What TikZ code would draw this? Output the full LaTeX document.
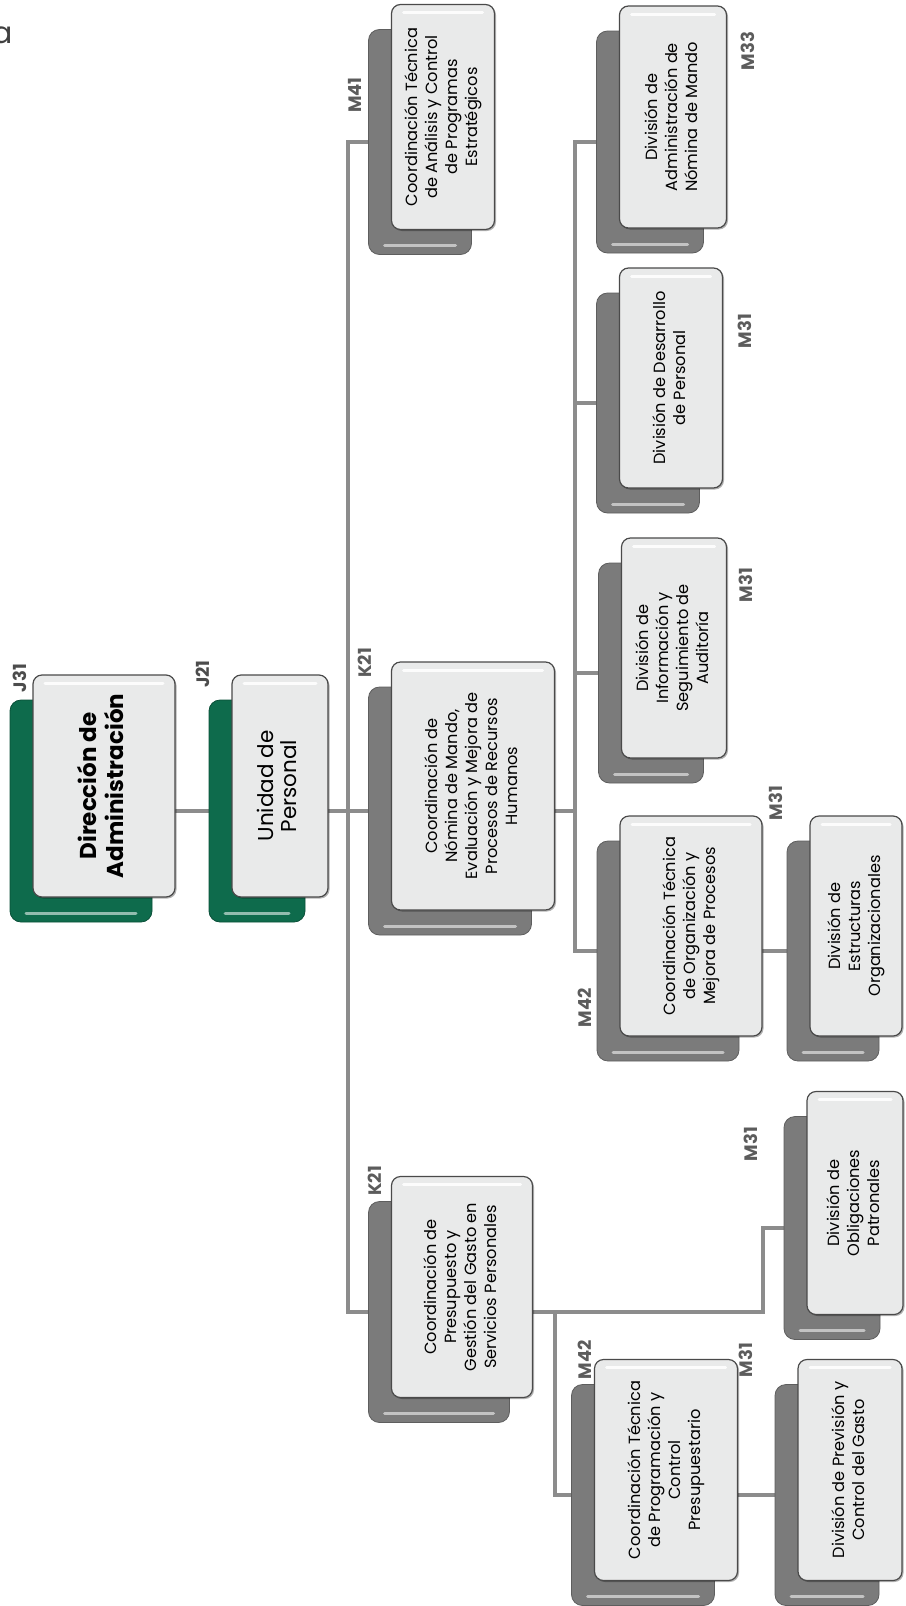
\documentclass[tikz,border=0pt]{standalone}
\usepackage{fontspec}
\setmainfont{Poppins}
\usetikzlibrary{positioning, calc, backgrounds, shadows}

\definecolor{linkgray}{HTML}{8C8C8C}
\definecolor{backgray}{HTML}{7B7B7B}
\definecolor{backedge}{HTML}{5E5E5E}
\definecolor{dirgreen}{HTML}{0E6B4C}
\definecolor{dirgreenedge}{HTML}{0A4F38}
\definecolor{frontfill}{HTML}{E9EAEA}
\definecolor{frontedge}{HTML}{4A4A4A}
\definecolor{gradegray}{HTML}{5C5C5C}

% vertical text, read from bottom to top
\newcommand{\vtxt}[1]{\rotatebox{90}{\begin{tabular}{@{}c@{}}#1\end{tabular}}}

\begin{document}
\begin{tikzpicture}[
  x=1pt, y=-1pt,
  link/.style={draw=linkgray, line width=4pt},
  backbox/.style 2 args={rectangle, rounded corners=11pt, minimum width=#1, minimum height=#2, inner sep=0pt,
    fill=backgray, draw=backedge, line width=.8pt,
    path picture={\draw[white, opacity=.55, line width=3pt, line cap=round]
      ([xshift=16pt,yshift=9pt]path picture bounding box.south west) -- ([xshift=-16pt,yshift=9pt]path picture bounding box.south east);}},
  greenbox/.style 2 args={backbox={#1}{#2}, fill=dirgreen, draw=dirgreenedge},
  frontbox/.style 2 args={rectangle, rounded corners=9pt, minimum width=#1, minimum height=#2, inner sep=0pt,
    fill=frontfill, draw=frontedge, line width=1.2pt, font=\fontsize{16.2}{20}\selectfont,
    drop shadow={shadow xshift=1.5pt, shadow yshift=-1.5pt, opacity=.3, fill=black},
    path picture={\draw[white, opacity=.9, line width=3pt, line cap=round]
      ([xshift=12pt,yshift=-8pt]path picture bounding box.north west) -- ([xshift=-12pt,yshift=-8pt]path picture bounding box.north east);}},
  grade/.style={rotate=90, font=\fontsize{18}{18}\bfseries, text=gradegray, inner sep=0pt}
]
\useasboundingbox (0,0) rectangle (905,1606);
\clip (0,0) rectangle (905,1606);

\node[anchor=base east, inner sep=0pt, font=\fontsize{30}{30}\selectfont, text=black!75] (frag) at (12.5,43) {a};

% back boxes
\node[greenbox={142pt}{222pt}] (dirb) at (81,811) {};
\node[greenbox={96pt}{222pt}] (unib) at (257,811) {};
\node[backbox={103pt}{225pt}] (analb) at (420,142) {};
\node[backbox={163pt}{248pt}] (nomb) at (450,811) {};
\node[backbox={141pt}{221pt}] (presb) at (439,1312) {};
\node[backbox={143pt}{221pt}] (progb) at (643,1495) {};
\node[backbox={104pt}{221pt}] (prevb) at (827,1495) {};
\node[backbox={142pt}{220pt}] (orgb) at (668,951) {};
\node[backbox={92pt}{220pt}] (estb) at (833,951) {};
\node[backbox={107pt}{222pt}] (admnb) at (650,142) {};
\node[backbox={103pt}{220pt}] (desb) at (648,403) {};
\node[backbox={105pt}{220pt}] (infb) at (651,673) {};
\node[backbox={96pt}{223pt}] (oblb) at (832,1228) {};

% front boxes
\node[frontbox={142pt}{222pt}, font=\fontsize{23}{26}\bfseries] (dir) at ($(dirb)+(23,-25)$) {\vtxt{Dirección de\\Administración}};
\node[frontbox={96pt}{222pt}, font=\fontsize{21.5}{22}\selectfont] (uni) at ($(unib)+(23,-25)$) {\vtxt{Unidad de\\Personal}};
\node[frontbox={103pt}{225pt}] (anal) at ($(analb)+(23,-25)$) {\vtxt{Coordinación Técnica\\de Análisis y Control\\de Programas\\Estratégicos}};
\node[frontbox={163pt}{248pt}] (nom) at ($(nomb)+(23,-25)$) {\vtxt{Coordinación de\\Nómina de Mando,\\Evaluación y Mejora de\\Procesos de Recursos\\Humanos}};
\node[frontbox={141pt}{221pt}] (pres) at ($(presb)+(23,-25)$) {\vtxt{Coordinación de\\Presupuesto y\\Gestión del Gasto en\\Servicios Personales}};
\node[frontbox={143pt}{221pt}] (prog) at ($(progb)+(23,-25)$) {\vtxt{Coordinación Técnica\\de Programación y\\Control\\Presupuestario}};
\node[frontbox={104pt}{221pt}] (prev) at ($(prevb)+(23,-25)$) {\vtxt{División de Previsión y\\Control del Gasto}};
\node[frontbox={142pt}{220pt}] (org) at ($(orgb)+(23,-25)$) {\vtxt{Coordinación Técnica\\de Organización y\\Mejora de Procesos}};
\node[frontbox={92pt}{220pt}] (est) at ($(estb)+(23,-25)$) {\vtxt{División de\\Estructuras\\Organizacionales}};
\node[frontbox={107pt}{222pt}] (admn) at ($(admnb)+(23,-25)$) {\vtxt{División de\\Administración de\\Nómina de Mando}};
\node[frontbox={103pt}{220pt}] (des) at ($(desb)+(23,-25)$) {\vtxt{División de Desarrollo\\de Personal}};
\node[frontbox={105pt}{220pt}] (inf) at ($(infb)+(23,-25)$) {\vtxt{División de\\Información y\\Seguimiento de\\Auditoría}};
\node[frontbox={96pt}{223pt}] (obl) at ($(oblb)+(23,-25)$) {\vtxt{División de\\Obligaciones\\Patronales}};

% level codes
\node[grade, text=black!70] (j31) at (20,678) {J31};
\node[grade, text=black!70] (j21) at (203,674) {J21};
\node[grade] (m41) at (355,95) {M41};
\node[grade] (k21a) at (365,663) {K21};
\node[grade] (k21b) at (375,1181) {K21};
\node[grade] (m42a) at (585,1360) {M42};
\node[grade] (m31a) at (746,1360) {M31};
\node[grade] (m42b) at (585,1008) {M42};
\node[grade] (m31b) at (776,803) {M31};
\node[grade] (m33) at (748,51) {M33};
\node[grade] (m31c) at (745,331) {M31};
\node[grade] (m31d) at (746,585) {M31};
\node[grade] (m31e) at (751,1144) {M31};

% connectors
\coordinate (k) at (348,811);
\coordinate (m) at (575,811);
\coordinate (q) at (763,1228);
\coordinate (r) at (555,1312);
\begin{scope}[on background layer]
\draw[link] (dirb) -- (unib);
\draw[link] (unib) -- (nomb);
\draw[link] (analb) -| (k) |- (presb);
\draw[link] (nomb) -- (m);
\draw[link] (admnb) -| (m) |- (orgb);
\draw[link] (desb) -| (m);
\draw[link] (infb) -| (m);
\draw[link] (orgb) -- (estb);
\draw[link] (presb) -| (q) -- (oblb);
\draw[link] (r) |- (progb);
\draw[link] (progb) -- (prevb);
\end{scope}
\end{tikzpicture}
\end{document}
